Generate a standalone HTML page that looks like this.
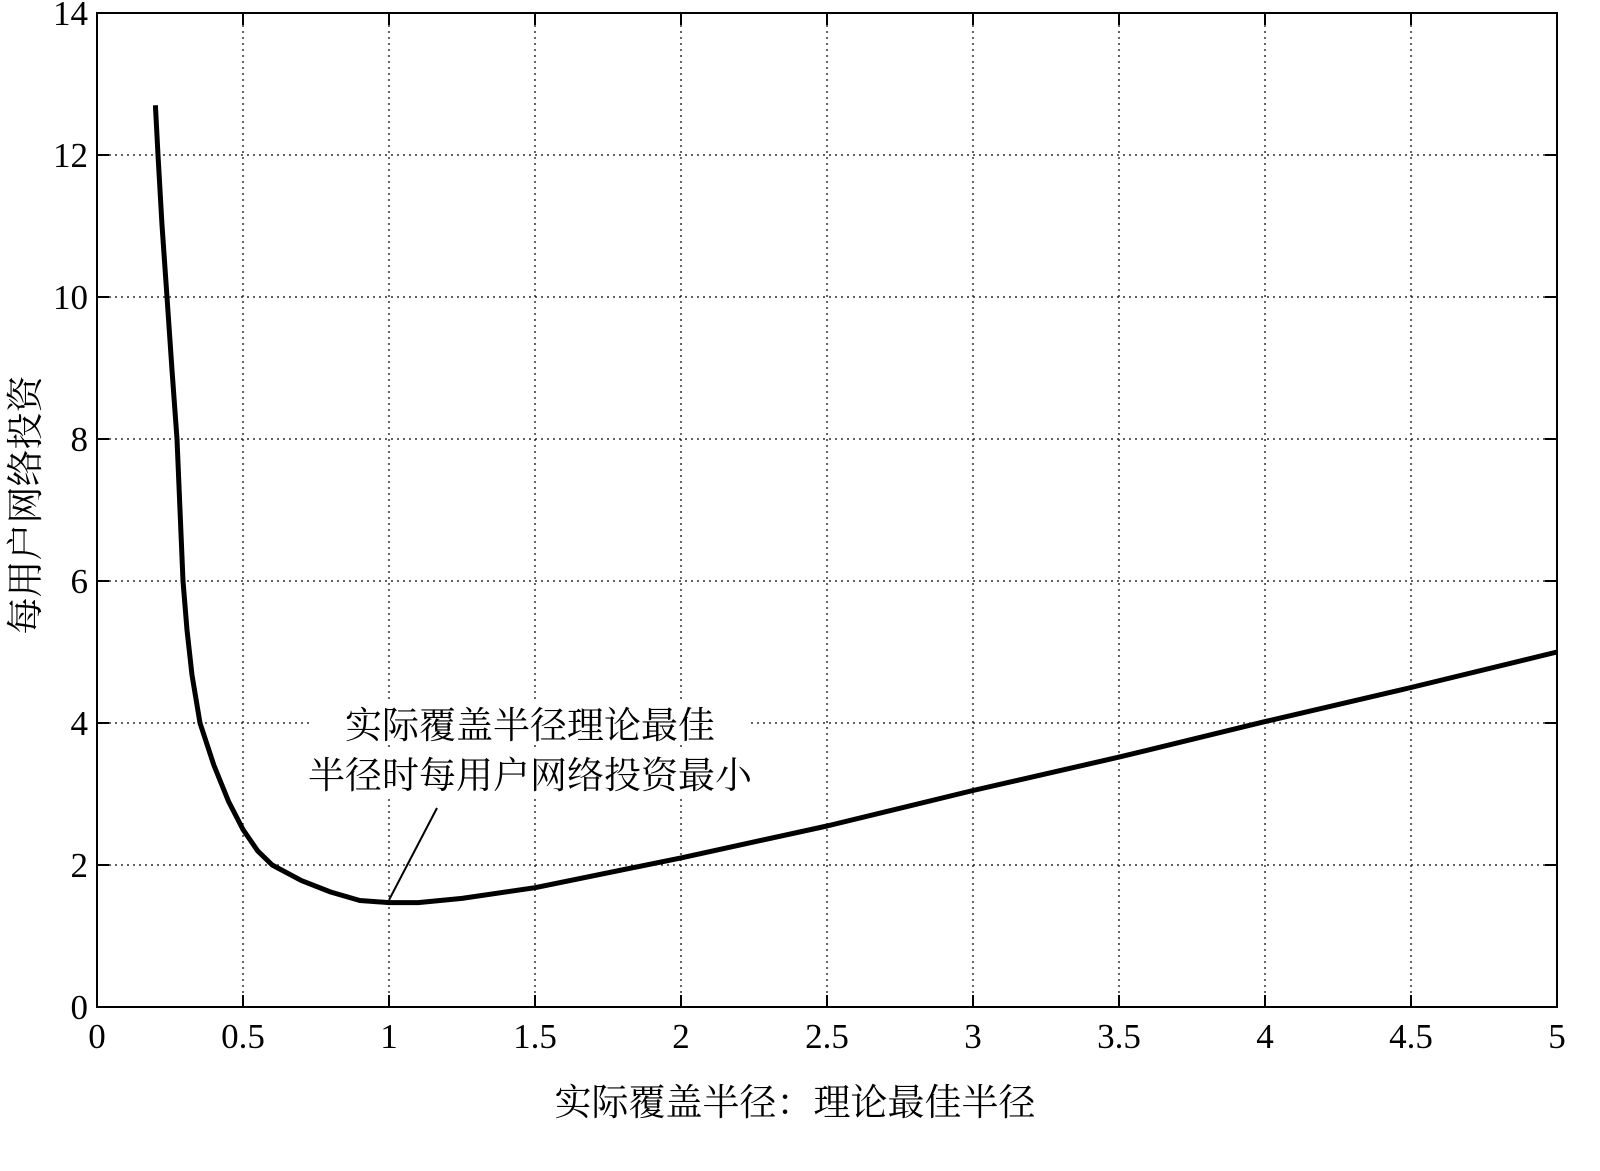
<!DOCTYPE html>
<html><head><meta charset="utf-8"><style>body{margin:0;background:#fff}</style></head><body>
<svg width="1600" height="1166" xmlns="http://www.w3.org/2000/svg" font-family="'Liberation Serif','Noto Serif CJK SC',serif">
<g stroke="#000" stroke-width="1.2" stroke-dasharray="2,4">
<line x1="243" y1="13" x2="243" y2="1007"/><line x1="389" y1="13" x2="389" y2="1007"/><line x1="535" y1="13" x2="535" y2="1007"/><line x1="681" y1="13" x2="681" y2="1007"/><line x1="827" y1="13" x2="827" y2="1007"/><line x1="973" y1="13" x2="973" y2="1007"/><line x1="1119" y1="13" x2="1119" y2="1007"/><line x1="1265" y1="13" x2="1265" y2="1007"/><line x1="1411" y1="13" x2="1411" y2="1007"/>
<line x1="97" y1="865" x2="1557" y2="865"/><line x1="97" y1="723" x2="1557" y2="723"/><line x1="97" y1="581" x2="1557" y2="581"/><line x1="97" y1="439" x2="1557" y2="439"/><line x1="97" y1="297" x2="1557" y2="297"/><line x1="97" y1="155" x2="1557" y2="155"/>
</g>
<rect x="97" y="13" width="1460" height="994" fill="none" stroke="#000" stroke-width="2"/>
<g stroke="#000" stroke-width="2">
<path d="M243 1007v-12M389 1007v-12M535 1007v-12M681 1007v-12M827 1007v-12M973 1007v-12M1119 1007v-12M1265 1007v-12M1411 1007v-12M243 13v12M389 13v12M535 13v12M681 13v12M827 13v12M973 13v12M1119 13v12M1265 13v12M1411 13v12"/>
<path d="M97 865h12M97 723h12M97 581h12M97 439h12M97 297h12M97 155h12M1557 865h-12M1557 723h-12M1557 581h-12M1557 439h-12M1557 297h-12M1557 155h-12"/>
</g>
<g font-size="35" text-anchor="middle">
<text x="97" y="1048">0</text><text x="243" y="1048">0.5</text><text x="389" y="1048">1</text><text x="535" y="1048">1.5</text><text x="681" y="1048">2</text><text x="827" y="1048">2.5</text><text x="973" y="1048">3</text><text x="1119" y="1048">3.5</text><text x="1265" y="1048">4</text><text x="1411" y="1048">4.5</text><text x="1557" y="1048">5</text>
</g>
<g font-size="35" text-anchor="end">
<text x="88" y="1019">0</text><text x="88" y="877">2</text><text x="88" y="735">4</text><text x="88" y="593">6</text><text x="88" y="451">8</text><text x="88" y="309">10</text><text x="88" y="167">12</text><text x="88" y="25">14</text>
</g>
<polyline fill="none" stroke="#000" stroke-width="5" stroke-linejoin="round" points="155.4,105.3 158,155 162,225 167,297 172,370 177,439 180,510 183,581 187,630 192,675 200,723 213.8,765 228.4,801.1 243,829.5 257.6,850.8 272.2,865 301.4,880.6 330.6,892 359.8,900.5 389,902.6 418.2,902.6 462,898.4 535,887.7 681,857.9 827,826 973,790.5 1119,757.1 1265,721.6 1411,687.5 1557,652"/>
<line x1="437" y1="808" x2="389" y2="900" stroke="#000" stroke-width="2"/>
<rect x="310" y="700" width="440" height="45" fill="#fff"/>
<rect x="275" y="748" width="510" height="48" fill="#fff"/>
<g font-size="37" text-anchor="middle">
<text x="530" y="738">实际覆盖半径理论最佳</text>
<text x="530" y="788">半径时每用户网络投资最小</text>
<text x="795" y="1115">实际覆盖半径：理论最佳半径</text>
<text transform="translate(38,505) rotate(-90)">每用户网络投资</text>
</g>
</svg>
</body></html>
